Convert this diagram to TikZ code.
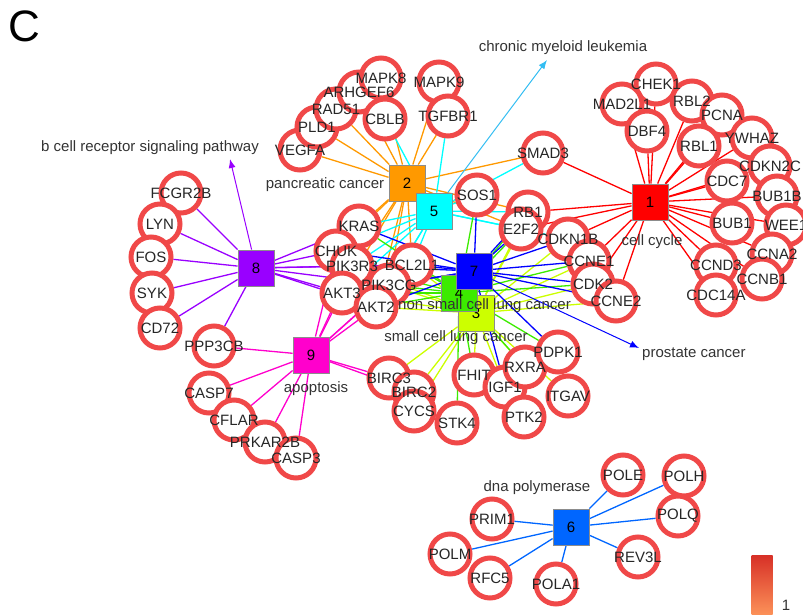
\documentclass[tikz,border=0pt]{standalone}
\usepackage{fontspec}
\setmainfont{Liberation Sans}
\usetikzlibrary{arrows.meta,backgrounds}

\definecolor{ringred}{RGB}{240,72,72}
\definecolor{c1}{RGB}{255,0,0}
\definecolor{c2}{RGB}{255,153,0}
\definecolor{c3}{RGB}{204,255,0}
\definecolor{c4}{RGB}{60,235,0}
\definecolor{c5}{RGB}{0,255,255}
\definecolor{c6}{RGB}{0,102,255}
\definecolor{c7}{RGB}{0,0,255}
\definecolor{c8}{RGB}{153,0,255}
\definecolor{c9}{RGB}{255,0,204}
\definecolor{bartop}{RGB}{215,48,39}
\definecolor{barbot}{RGB}{252,146,89}

\begin{document}
\begin{tikzpicture}[x=1pt,y=-1pt]
\tikzstyle{gene}=[circle,draw=ringred,line width=5pt,fill=white,minimum size=40pt,inner sep=0pt]
\tikzstyle{gname}=[inner sep=0pt,font=\fontsize{15}{15}\selectfont,text=black!85]
\tikzstyle{term}=[rectangle,draw=black!45,line width=0.8pt,minimum size=36pt,inner sep=0pt,font=\fontsize{15}{15}\selectfont]
\tikzstyle{tname}=[inner sep=0pt,font=\fontsize{15}{15}\selectfont,text=black!80]
\tikzstyle{link}=[line width=1.3pt]
\tikzstyle{pointer}=[line width=1pt,-{Latex[length=9pt,width=7pt]}]
\useasboundingbox (0,0) rectangle (803,615);

\node [font=\fontsize{44}{44}\selectfont,inner sep=0pt] (panel) at (24,26) {C};

% gene circles
\node [gene] (VEGFA) at (300,150) {};
\node [gene] (PLD1) at (317,127) {};
\node [gene] (RAD51) at (336,109) {};
\node [gene] (ARHGEF6) at (359,92) {};
\node [gene] (MAPK8) at (381,78) {};
\node [gene] (MAPK9) at (439,82) {};
\node [gene] (CBLB) at (385,119) {};
\node [gene] (TGFBR1) at (448,116) {};
\node [gene] (SMAD3) at (543,153) {};
\node [gene] (SOS1) at (477,195) {};
\node [gene] (RB1) at (528,212) {};
\node [gene] (E2F2) at (521,229) {};
\node [gene] (CDKN1B) at (568,239) {};
\node [gene] (CCNE1) at (589,261) {};
\node [gene] (CDK2) at (593,284) {};
\node [gene] (CCNE2) at (616,301) {};
\node [gene] (KRAS) at (359,226) {};
\node [gene] (CHUK) at (336,251) {};
\node [gene] (PIK3R3) at (352,266) {};
\node [gene] (BCL2L1) at (412,265) {};
\node [gene] (PIK3CG) at (389,285) {};
\node [gene] (AKT3) at (342,293) {};
\node [gene] (AKT2) at (376,307) {};
\node [gene] (CHEK1) at (656,84) {};
\node [gene] (MAD2L1) at (622,104) {};
\node [gene] (RBL2) at (692,101) {};
\node [gene] (PCNA) at (722,115) {};
\node [gene] (DBF4) at (647,131) {};
\node [gene] (RBL1) at (699,146) {};
\node [gene] (YWHAZ) at (752,138) {};
\node [gene] (CDKN2C) at (770,166) {};
\node [gene] (CDC7) at (727,181) {};
\node [gene] (BUB1B) at (777,196) {};
\node [gene] (BUB1) at (732,223) {};
\node [gene] (WEE1) at (786,225) {};
\node [gene] (CCNA2) at (772,254) {};
\node [gene] (CCND3) at (716,265) {};
\node [gene] (CCNB1) at (762,279) {};
\node [gene] (CDC14A) at (716,295) {};
\node [gene] (FCGR2B) at (181,193) {};
\node [gene] (LYN) at (160,224) {};
\node [gene] (FOS) at (151,257) {};
\node [gene] (SYK) at (152,293) {};
\node [gene] (CD72) at (160,328) {};
\node [gene] (PPP3CB) at (214,346) {};
\node [gene] (CASP7) at (209,393) {};
\node [gene] (CFLAR) at (234,420) {};
\node [gene] (PRKAR2B) at (265,442) {};
\node [gene] (CASP3) at (296,458) {};
\node [gene] (BIRC3) at (389,378) {};
\node [gene] (BIRC2) at (414,392) {};
\node [gene] (CYCS) at (414,411) {};
\node [gene] (STK4) at (457,423) {};
\node [gene] (FHIT) at (474,375) {};
\node [gene] (IGF1) at (505,387) {};
\node [gene] (RXRA) at (525,367) {};
\node [gene] (PDPK1) at (558,352) {};
\node [gene] (ITGAV) at (568,396) {};
\node [gene] (PTK2) at (524,417) {};
\node [gene] (POLE) at (623,475) {};
\node [gene] (POLH) at (684,476) {};
\node [gene] (POLQ) at (678,516) {};
\node [gene] (REV3L) at (638,557) {};
\node [gene] (POLA1) at (556,584) {};
\node [gene] (RFC5) at (490,578) {};
\node [gene] (POLM) at (450,554) {};
\node [gene] (PRIM1) at (492,519) {};

% term squares
\node [term,fill=c1] (sq1) at (650,202) {1};
\node [term,fill=c2] (sq2) at (407,183) {2};
\node [term,fill=c5] (sq5) at (434,211) {5};
\node [term,fill=c3] (sq3) at (476,313) {3};
\node [term,fill=c4] (sq4) at (459,293) {4};
\node [term,fill=c7] (sq7) at (474,271) {7};
\node [term,fill=c8] (sq8) at (256,268) {8};
\node [term,fill=c9] (sq9) at (311,355) {9};
\node [term,fill=c6] (sq6) at (571,527) {6};

\coordinate (cmltip) at (547,60);
\coordinate (bcrtip) at (230,159);
\coordinate (prostip) at (639,348);

\begin{scope}[on background layer]
\path [link,c1] (sq1) edge (CHEK1) edge (MAD2L1) edge (RBL2) edge (PCNA) edge (DBF4)
  edge (RBL1) edge (YWHAZ) edge (CDKN2C) edge (CDC7) edge (BUB1B) edge (BUB1)
  edge (WEE1) edge (CCNA2) edge (CCND3) edge (CCNB1) edge (CDC14A) edge (SMAD3)
  edge (RB1) edge (E2F2) edge (CDKN1B) edge (CCNE1) edge (CDK2) edge (CCNE2);
\path [link,c2] (sq2) edge (VEGFA) edge (PLD1) edge (RAD51) edge (ARHGEF6) edge (MAPK8)
  edge (MAPK9) edge (TGFBR1) edge (SMAD3) edge (RB1) edge (E2F2) edge (KRAS)
  edge (CHUK) edge (PIK3R3) edge (BCL2L1) edge (PIK3CG) edge (AKT3) edge (AKT2);
\path [link,c5] (sq5) edge (CBLB) edge (TGFBR1) edge (SMAD3) edge (SOS1) edge (RB1)
  edge (E2F2) edge (KRAS) edge (CHUK) edge (PIK3R3) edge (BCL2L1) edge (PIK3CG)
  edge (AKT3) edge (AKT2) edge (CDKN1B);
\path [link,c3] (sq3) edge (E2F2) edge (RB1) edge (CDKN1B) edge (CCNE1) edge (CDK2)
  edge (CCNE2) edge (PIK3R3) edge (BCL2L1) edge (PIK3CG) edge (AKT3) edge (AKT2)
  edge (BIRC3) edge (BIRC2) edge (CYCS) edge (FHIT) edge (RXRA) edge (ITGAV)
  edge (IGF1);
\path [link,c4] (sq4) edge (SOS1) edge (KRAS) edge (RB1) edge (E2F2) edge (CCNE1)
  edge (CDK2) edge (PIK3R3) edge (BCL2L1) edge (PIK3CG) edge (AKT3) edge (AKT2)
  edge (STK4) edge (FHIT) edge (RXRA) edge (PDPK1);
\path [link,c7] (sq7) edge (SOS1) edge (KRAS) edge (RB1) edge (E2F2) edge (CDKN1B)
  edge (CCNE1) edge (CDK2) edge (CCNE2) edge (CHUK) edge (PIK3R3) edge (BCL2L1)
  edge (PIK3CG) edge (AKT3) edge (AKT2) edge (PDPK1) edge (IGF1);
\path [link,c8] (sq8) edge (FCGR2B) edge (LYN) edge (FOS) edge (SYK) edge (CD72)
  edge (PPP3CB) edge (KRAS) edge (CHUK) edge (PIK3R3) edge (PIK3CG) edge (AKT3)
  edge (AKT2) edge (BCL2L1);
\path [link,c9] (sq9) edge (PPP3CB) edge (CASP7) edge (CFLAR) edge (PRKAR2B)
  edge (CASP3) edge (BIRC3) edge (BIRC2) edge (CHUK) edge (PIK3R3) edge (AKT3)
  edge (AKT2) edge (PIK3CG) edge (BCL2L1);
\path [link,c6] (sq6) edge (POLE) edge (POLH) edge (POLQ) edge (REV3L) edge (POLA1)
  edge (RFC5) edge (POLM) edge (PRIM1);
\end{scope}

\draw [pointer,cyan!80!white] (sq5) -- (cmltip);
\draw [pointer,c8] (sq8) -- (bcrtip);
\draw [pointer,c7] (sq7) -- (prostip);

% term labels
\node [tname] (lab1) at (652,242) {cell cycle};
\node [tname] (lab2) at (325,185) {pancreatic cancer};
\node [tname,anchor=west] (lab4) at (398,306) {non small cell lung cancer};
\node [tname] (lab3) at (456,338) {small cell lung cancer};
\node [tname] (lab9) at (316,389) {apoptosis};
\node [tname] (lab6) at (537,488) {dna polymerase};
\node [tname] (labcml) at (563,48) {chronic myeloid leukemia};
\node [tname] (labbcr) at (150,148) {b cell receptor signaling pathway};
\node [tname,anchor=west] (labpros) at (642,354) {prostate cancer};

% gene names
\node [gname] (tVEGFA) at (VEGFA) {VEGFA};
\node [gname] (tPLD1) at (PLD1) {PLD1};
\node [gname] (tRAD51) at (RAD51) {RAD51};
\node [gname] (tARHGEF6) at (ARHGEF6) {ARHGEF6};
\node [gname] (tMAPK8) at (MAPK8) {MAPK8};
\node [gname] (tMAPK9) at (MAPK9) {MAPK9};
\node [gname] (tCBLB) at (CBLB) {CBLB};
\node [gname] (tTGFBR1) at (TGFBR1) {TGFBR1};
\node [gname] (tSMAD3) at (SMAD3) {SMAD3};
\node [gname] (tSOS1) at (SOS1) {SOS1};
\node [gname] (tRB1) at (RB1) {RB1};
\node [gname] (tE2F2) at (E2F2) {E2F2};
\node [gname] (tCDKN1B) at (CDKN1B) {CDKN1B};
\node [gname] (tCCNE1) at (CCNE1) {CCNE1};
\node [gname] (tCDK2) at (CDK2) {CDK2};
\node [gname] (tCCNE2) at (CCNE2) {CCNE2};
\node [gname] (tKRAS) at (KRAS) {KRAS};
\node [gname] (tCHUK) at (CHUK) {CHUK};
\node [gname] (tPIK3R3) at (PIK3R3) {PIK3R3};
\node [gname] (tBCL2L1) at (BCL2L1) {BCL2L1};
\node [gname] (tPIK3CG) at (PIK3CG) {PIK3CG};
\node [gname] (tAKT3) at (AKT3) {AKT3};
\node [gname] (tAKT2) at (AKT2) {AKT2};
\node [gname] (tCHEK1) at (CHEK1) {CHEK1};
\node [gname] (tMAD2L1) at (MAD2L1) {MAD2L1};
\node [gname] (tRBL2) at (RBL2) {RBL2};
\node [gname] (tPCNA) at (PCNA) {PCNA};
\node [gname] (tDBF4) at (DBF4) {DBF4};
\node [gname] (tRBL1) at (RBL1) {RBL1};
\node [gname] (tYWHAZ) at (YWHAZ) {YWHAZ};
\node [gname] (tCDKN2C) at (CDKN2C) {CDKN2C};
\node [gname] (tCDC7) at (CDC7) {CDC7};
\node [gname] (tBUB1B) at (BUB1B) {BUB1B};
\node [gname] (tBUB1) at (BUB1) {BUB1};
\node [gname] (tWEE1) at (WEE1) {WEE1};
\node [gname] (tCCNA2) at (CCNA2) {CCNA2};
\node [gname] (tCCND3) at (CCND3) {CCND3};
\node [gname] (tCCNB1) at (CCNB1) {CCNB1};
\node [gname] (tCDC14A) at (CDC14A) {CDC14A};
\node [gname] (tFCGR2B) at (FCGR2B) {FCGR2B};
\node [gname] (tLYN) at (LYN) {LYN};
\node [gname] (tFOS) at (FOS) {FOS};
\node [gname] (tSYK) at (SYK) {SYK};
\node [gname] (tCD72) at (CD72) {CD72};
\node [gname] (tPPP3CB) at (PPP3CB) {PPP3CB};
\node [gname] (tCASP7) at (CASP7) {CASP7};
\node [gname] (tCFLAR) at (CFLAR) {CFLAR};
\node [gname] (tPRKAR2B) at (PRKAR2B) {PRKAR2B};
\node [gname] (tCASP3) at (CASP3) {CASP3};
\node [gname] (tBIRC3) at (BIRC3) {BIRC3};
\node [gname] (tBIRC2) at (BIRC2) {BIRC2};
\node [gname] (tCYCS) at (CYCS) {CYCS};
\node [gname] (tSTK4) at (STK4) {STK4};
\node [gname] (tFHIT) at (FHIT) {FHIT};
\node [gname] (tIGF1) at (IGF1) {IGF1};
\node [gname] (tRXRA) at (RXRA) {RXRA};
\node [gname] (tPDPK1) at (PDPK1) {PDPK1};
\node [gname] (tITGAV) at (ITGAV) {ITGAV};
\node [gname] (tPTK2) at (PTK2) {PTK2};
\node [gname] (tPOLE) at (POLE) {POLE};
\node [gname] (tPOLH) at (POLH) {POLH};
\node [gname] (tPOLQ) at (POLQ) {POLQ};
\node [gname] (tREV3L) at (REV3L) {REV3L};
\node [gname] (tPOLA1) at (POLA1) {POLA1};
\node [gname] (tRFC5) at (RFC5) {RFC5};
\node [gname] (tPOLM) at (POLM) {POLM};
\node [gname] (tPRIM1) at (PRIM1) {PRIM1};

% legend
\node [rectangle,minimum width=21pt,minimum height=60pt,inner sep=0pt,top color=bartop,bottom color=barbot] (bar) at (762,585) {};
\node [tname] (barone) at (786,605) {1};
\end{tikzpicture}
\end{document}
